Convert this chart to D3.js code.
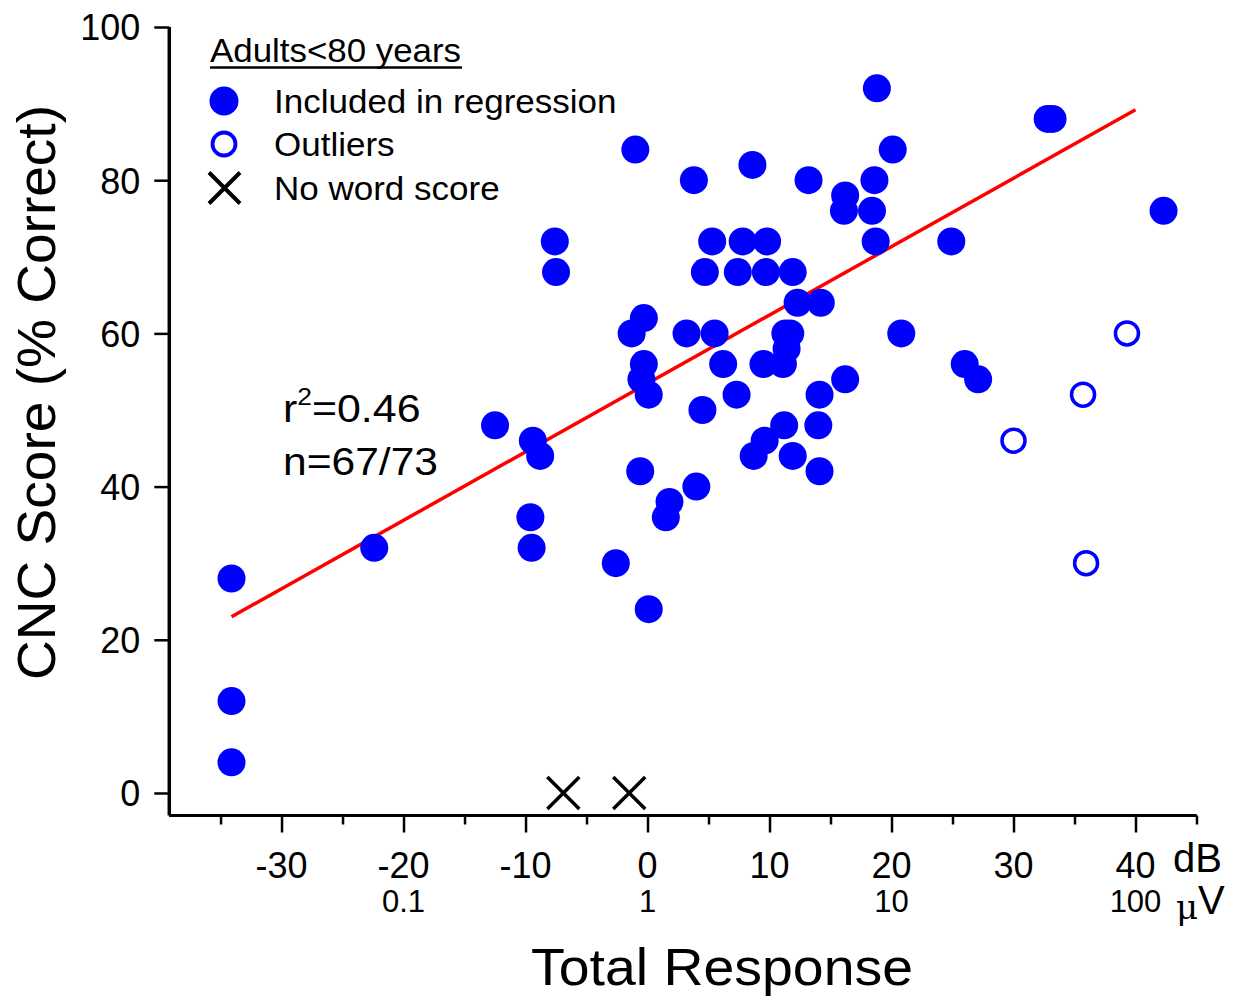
<!DOCTYPE html>
<html>
<head>
<meta charset="utf-8">
<script src="https://cdn.jsdelivr.net/npm/d3@7"></script>
<style>
  html, body { margin: 0; padding: 0; background: #fff; }
  svg { display: block; }
  text { font-family: Arial, "Liberation Sans", sans-serif; fill: #000; }
</style>
</head>
<body>
<svg id="chart" width="1244" height="998"></svg>
<script>
// ---- data ----
const includedX = [-34.1,-34.1,-34.1,-22.4,-12.5,-9.4,-8.8,-9.6,-9.5,-7.6,-7.5,-2.6,-1.0,-1.3,-0.3,-0.3,-0.5,0.1,-0.6,0.1,
  1.8,1.5,3.2,3.8,4.0,4.5,4.7,5.3,5.5,6.2,7.3,7.4,7.8,8.6,8.7,9.6,9.5,9.7,9.8,11.3,11.1,11.4,11.2,11.7,11.9,12.3,11.9,
  13.2,14.0,14.1,14.2,14.1,16.1,16.2,16.2,18.4,18.6,18.7,18.8,20.1,20.8,24.9,26.0,27.1,32.8,33.2,42.3];
const includedY = [28,12,4,32,48,46,44,36,32,72,68,30,84,60,62,56,54,52,42,24,
  38,36,60,80,40,50,68,72,60,56,52,68,72,82,44,46,56,68,72,60,56,58,48,60,68,64,44,
  80,48,52,64,42,76,78,54,76,80,72,92,84,60,72,56,54,88,88,76];
const outlierX = [30.0, 35.7, 35.95, 39.3];
const outlierY = [46, 52, 30, 60];
const noScoreX = [-6.9, -1.5];
const noScoreY = [0, 0];
const fitX = [-34.1, 40.0];
const fitY = [23.0, 89.2];
const xMajorTicks = [-30,-20,-10,0,10,20,30,40];
const xMinorTicks = [-35,-25,-15,-5,5,15,25,35,45];
const xTickLabels = ["-30","-20","-10","0","10","20","30","40"];
const uvTicks = [-20, 0, 20, 40];
const uvLabels = ["0.1", "1", "10", "100"];
const yTicks = [0,20,40,60,80,100];
const legendLabels = ["Included in regression", "Outliers", "No word score"];

// ---- layout ----
const svg = d3.select("#chart");
const x = d3.scaleLinear().domain([-39.2, 45]).range([169.3, 1196.5]);
const y = d3.scaleLinear().domain([-2.94, 100]).range([815.5, 27]);
const blue = "#0000ff";

// regression line
svg.append("line")
  .attr("x1", x(fitX[0])).attr("y1", y(fitY[0]))
  .attr("x2", x(fitX[1])).attr("y2", y(fitY[1]))
  .attr("stroke", "#ff0000").attr("stroke-width", 3.5);

// filled points
svg.append("g").selectAll("circle").data(includedX).join("circle")
  .attr("cx", d => x(d)).attr("cy", (d, i) => y(includedY[i]))
  .attr("r", 14).attr("fill", blue);

// outliers
svg.append("g").selectAll("circle").data(outlierX).join("circle")
  .attr("cx", d => x(d)).attr("cy", (d, i) => y(outlierY[i]))
  .attr("r", 11.5).attr("fill", "none").attr("stroke", blue).attr("stroke-width", 3.5);

// no word score crosses
const xs = 16;
const crossPath = (cx, cy, s) => `M${cx - s},${cy - s}L${cx + s},${cy + s}M${cx - s},${cy + s}L${cx + s},${cy - s}`;
svg.append("g").selectAll("path").data(noScoreX).join("path")
  .attr("d", (d, i) => crossPath(x(d), y(noScoreY[i]), xs))
  .attr("stroke", "#000").attr("stroke-width", 3.5).attr("fill", "none");

// x axis
const xAxis = svg.append("g").attr("transform", `translate(0,${y.range()[0]})`);
xAxis.call(d3.axisBottom(x).tickValues(xMajorTicks).tickSize(17).tickFormat(""));
xAxis.append("g").call(d3.axisBottom(x).tickValues(xMinorTicks).tickSize(9).tickFormat(""));
xAxis.selectAll(".domain").attr("stroke", "#000").attr("stroke-width", 3)
  .attr("d", `M${x.range()[0]},0H${x.range()[1]}`);
xAxis.selectAll(".tick line").attr("stroke", "#000").attr("stroke-width", 2.5);
xAxis.selectAll("g.tick text").remove();
xAxis.append("g").selectAll("text").data(xMajorTicks).join("text")
  .attr("x", d => x(d)).attr("y", 878 - 815.5)
  .attr("text-anchor", "middle").attr("font-size", 36)
  .text((d, i) => xTickLabels[i]);
xAxis.append("g").selectAll("text").data(uvTicks).join("text")
  .attr("x", d => x(d)).attr("y", 912 - 815.5)
  .attr("text-anchor", "middle").attr("font-size", 31)
  .text((d, i) => uvLabels[i]);

// unit labels
svg.append("text").attr("x", 1173).attr("y", 872).attr("font-size", 40).text("dB");
const uv = svg.append("text").attr("x", 1176).attr("y", 914).attr("font-size", 40);
uv.append("tspan").attr("font-size", 34).attr("font-family", "DejaVu Serif, serif").attr("dy", 5).text("μ");
uv.append("tspan").attr("dy", -5).text("V");

// y axis
const yAxis = svg.append("g").attr("transform", `translate(${x.range()[0]},0)`);
yAxis.call(d3.axisLeft(y).tickValues(yTicks).tickSize(15).tickPadding(14));
yAxis.selectAll(".domain").attr("stroke", "#000").attr("stroke-width", 3.5)
  .attr("d", `M0,${y.range()[0]}V${y.range()[1]}`);
yAxis.selectAll(".tick line").attr("stroke", "#000").attr("stroke-width", 2.5);
yAxis.selectAll(".tick text").attr("font-size", 36).attr("fill", "#000")
  .attr("font-family", 'Arial, "Liberation Sans", sans-serif').attr("dy", "0.36em");

// axis titles
svg.append("text").attr("x", 531).attr("y", 985)
  .attr("font-size", 52).attr("textLength", 382).attr("lengthAdjust", "spacingAndGlyphs")
  .text("Total Response");
svg.append("text").attr("transform", "translate(55,680) rotate(-90)")
  .attr("font-size", 53).attr("textLength", 575).attr("lengthAdjust", "spacingAndGlyphs")
  .text("CNC Score (% Correct)");

// stats annotation
const r2 = svg.append("text").attr("x", 283).attr("y", 422).attr("font-size", 39)
  .attr("transform", "translate(283,0) scale(1.1,1) translate(-283,0)");
r2.append("tspan").text("r");
r2.append("tspan").attr("font-size", 24).attr("dy", -17).text("2");
r2.append("tspan").attr("dy", 17).text("=0.46");
svg.append("text").attr("x", 283).attr("y", 475).attr("font-size", 39)
  .attr("textLength", 155).attr("lengthAdjust", "spacingAndGlyphs").text("n=67/73");

// legend
const lg = svg.append("g");
lg.append("text").attr("x", 210).attr("y", 62).attr("font-size", 33)
  .attr("textLength", 251).attr("lengthAdjust", "spacingAndGlyphs").text("Adults<80 years");
lg.append("line").attr("x1", 210).attr("x2", 462).attr("y1", 67.5).attr("y2", 67.5)
  .attr("stroke", "#000").attr("stroke-width", 2.5);
const rowY = [101, 144, 188];
lg.append("circle").attr("cx", 224).attr("cy", rowY[0]).attr("r", 14.5).attr("fill", blue);
lg.append("circle").attr("cx", 224).attr("cy", rowY[1]).attr("r", 11.5)
  .attr("fill", "none").attr("stroke", blue).attr("stroke-width", 3.8);
lg.append("path").attr("d", crossPath(224.5, rowY[2], 15.5))
  .attr("stroke", "#000").attr("stroke-width", 4).attr("fill", "none");
lg.selectAll("text.item").data(legendLabels).join("text").attr("class", "item")
  .attr("x", 274).attr("y", (d, i) => rowY[i] + 12).attr("font-size", 34)
  .attr("transform", "translate(274,0) scale(1.03,1) translate(-274,0)")
  .text(d => d);
</script>
</body>
</html>
